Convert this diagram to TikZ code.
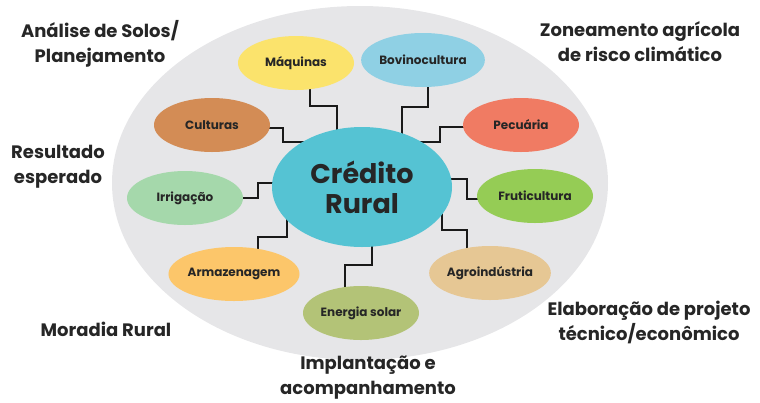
\documentclass[tikz,border=0pt]{standalone}
\usepackage{fontspec}
\setmainfont{Poppins}
\usetikzlibrary{shapes.geometric, backgrounds}

\definecolor{fieldgrey}{HTML}{E6E6E8}
\definecolor{hubcyan}{HTML}{55C3D3}
\definecolor{maqyellow}{HTML}{FBE36C}
\definecolor{bovblue}{HTML}{8FD0E4}
\definecolor{culbrown}{HTML}{D38C55}
\definecolor{pecred}{HTML}{F07B63}
\definecolor{irrgreen}{HTML}{A5D8AB}
\definecolor{frugreen}{HTML}{95CC55}
\definecolor{armorange}{HTML}{FCC66A}
\definecolor{eneolive}{HTML}{B3C377}
\definecolor{agrtan}{HTML}{E6C794}

\begin{document}
\begin{tikzpicture}[x=1pt, y=-1pt,
    topic/.style={ellipse, minimum width=116pt, minimum height=54pt, inner sep=0pt, text=black!85, font=\bfseries\fontsize{12}{14}\selectfont},
    hub/.style={ellipse, fill=hubcyan, minimum width=180pt, minimum height=120pt, inner sep=0pt, align=center, text=black!85, font=\bfseries\fontsize{27}{30}\selectfont},
    aside/.style={align=center, text=black!85, font=\bfseries\fontsize{18}{25}\selectfont},
    link/.style={draw=black!90, line width=2.2pt}
]
    \useasboundingbox (0,0) rectangle (760,402);

    \node[hub] (cr) at (362,187) {Crédito\\Rural};
    \node[topic, fill=maqyellow] (maq) at (296,63)  {Máquinas};
    \node[topic, fill=bovblue]   (bov) at (423,60)  {Bovinocultura};
    \node[topic, fill=culbrown]  (cul) at (212,125) {Culturas};
    \node[topic, fill=pecred]    (pec) at (521,125) {Pecuária};
    \node[topic, fill=irrgreen]  (irr) at (185,198) {Irrigação};
    \node[topic, fill=frugreen]  (fru) at (535,196) {Fruticultura};
    \node[topic, fill=armorange] (arm) at (234,274) {Armazenagem};
    \node[topic, fill=eneolive]  (ene) at (361,313) {Energia solar};
    \node[topic, fill=agrtan]    (agr) at (490,273) {Agroindústria};

    \begin{scope}[on background layer]
        \node[ellipse, fill=fieldgrey, minimum width=496pt, minimum height=354pt] (field) at (360,183) {};
        \draw[link] ([xshift=14]maq.center) -- ++(0,43) -| ([xshift=-25]cr.center);
        \draw[link] ([xshift=5]bov.center) -- ++(0,47) -| ([xshift=40]cr.center);
        \draw[link] ([yshift=-3]cul.center) -- ++(71,0) |- ([yshift=45]cr.center);
        \draw[link] ([yshift=-2]pec.center) -- ++(-81,0) |- ([yshift=45]cr.center);
        \draw[link] (irr.center) -- ++(73,0) |- ([yshift=4]cr.center);
        \draw[link] ([yshift=-3]fru.center) -- ++(-68,0) |- ([yshift=8]cr.center);
        \draw[link] ([xshift=24]arm.center) -- ++(0,-37) -| ([xshift=-75]cr.center);
        \draw[link] ([xshift=-16]ene.center) -- ++(0,-48) -| ([xshift=10]cr.center);
        \draw[link] ([xshift=-23]agr.center) -- ++(0,-43) -| ([xshift=80]cr.center);
    \end{scope}

    \node[aside] (solos)   at (100,44)  {Análise de Solos/\\Planejamento};
    \node[aside] (zona)    at (640,42)  {Zoneamento agrícola\\de risco climático};
    \node[aside] (result)  at (58,167)  {Resultado\\esperado};
    \node[aside] (moradia) at (106,329) {Moradia Rural};
    \node[aside] (implant) at (368,378) {Implantação e\\acompanhamento};
    \node[aside] (projeto) at (649,322) {Elaboração de projeto\\técnico/econômico};
\end{tikzpicture}
\end{document}
